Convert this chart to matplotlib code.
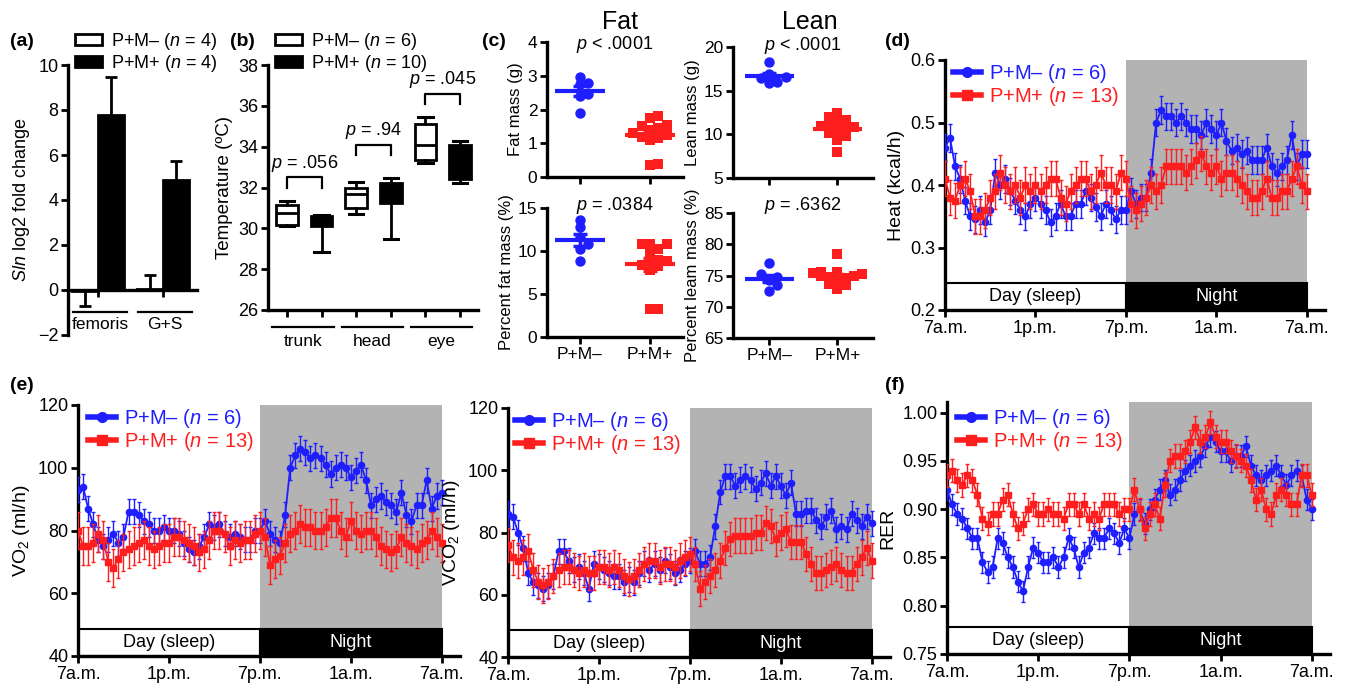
import matplotlib
matplotlib.use("Agg")
import matplotlib.pyplot as plt
import numpy as np
from matplotlib.lines import Line2D
from matplotlib.patches import Patch, Rectangle

plt.rcParams["font.family"] = ["Liberation Sans", "DejaVu Sans"]
plt.rcParams["mathtext.fontset"] = "custom"
plt.rcParams["mathtext.rm"] = "Liberation Sans"
plt.rcParams["mathtext.it"] = "Liberation Sans:italic"

W, H = 1352, 684
BLUE = "#1e1eff"
RED = "#ff1e1e"
GRAY = "#b3b3b3"

# (a) Sln expression
A_TISSUES = ["femoris", "G+S"]
A_NEG_MEAN = [-0.05, 0.05]
A_NEG_SEM = [0.65, 0.6]
A_POS_MEAN = [7.8, 4.9]
A_POS_SEM = [1.65, 0.85]

# (b) temperature, five-number summaries (whislo, q1, med, q3, whishi)
B_SITES = ["trunk", "head", "eye"]
B_NEG = [[30.1, 30.15, 30.75, 31.15, 31.35],
         [30.7, 31.0, 31.7, 32.0, 32.25],
         [33.2, 33.35, 34.1, 35.1, 35.45]]
B_POS = [[28.85, 30.1, 30.35, 30.6, 30.65],
         [29.5, 31.25, 31.7, 32.2, 32.45],
         [32.2, 32.4, 33.2, 34.1, 34.3]]
B_PVALS = [".056", ".94", ".045"]

# (c) body composition
FAT_NEG = [2.95, 2.8, 2.75, 2.45, 2.4, 1.9]
FAT_POS = [1.8, 1.75, 1.55, 1.5, 1.45, 1.4, 1.3, 1.25, 1.2, 1.15, 1.1, 0.4, 0.35]
LEAN_NEG = [18.3, 16.9, 16.6, 16.4, 16.0, 15.9]
LEAN_POS = [12.5, 12.0, 11.6, 11.3, 11.0, 10.9, 10.8, 10.6, 10.4, 10.1, 9.8, 9.4, 8.0]
PFAT_NEG = [13.6, 12.8, 11.6, 10.8, 10.2, 8.8]
PFAT_POS = [10.8, 10.8, 10.8, 10.2, 9.8, 9.0, 8.8, 8.6, 8.4, 8.2, 7.8, 3.2, 3.2]
PLEAN_NEG = [77.0, 75.2, 74.7, 74.3, 73.4, 72.5]
PLEAN_POS = [78.5, 75.6, 75.4, 75.2, 75.0, 74.9, 74.8, 74.6, 74.4, 73.6, 73.4, 72.8, 75.5]

# (d)-(f) indirect calorimetry, 20-min bins from 7 a.m. to 7 a.m.
HOURS = np.linspace(0, 24, 73)
TIME_LABELS = ["7a.m.", "1p.m.", "7p.m.", "1a.m.", "7a.m."]

HEAT_NEG = [0.46, 0.475, 0.43, 0.41, 0.375, 0.35, 0.345, 0.36, 0.34, 0.36,
            0.42, 0.40, 0.41, 0.39, 0.375, 0.36, 0.35, 0.37, 0.38, 0.37,
            0.36, 0.34, 0.35, 0.37, 0.35, 0.35, 0.37, 0.37, 0.39, 0.38,
            0.365, 0.35, 0.37, 0.36, 0.345, 0.36, 0.36, 0.39, 0.37, 0.38,
            0.38, 0.42, 0.50, 0.52, 0.51, 0.51, 0.50, 0.51, 0.50, 0.49,
            0.49, 0.48, 0.50, 0.49, 0.48, 0.50, 0.47, 0.455, 0.46, 0.45,
            0.455, 0.44, 0.44, 0.44, 0.46, 0.43, 0.42, 0.43, 0.44, 0.48,
            0.43, 0.45, 0.45]
HEAT_POS = [0.41, 0.38, 0.375, 0.40, 0.41, 0.39, 0.35, 0.35, 0.36, 0.38,
            0.39, 0.42, 0.40, 0.39, 0.40, 0.38, 0.40, 0.39, 0.40, 0.39,
            0.40, 0.41, 0.41, 0.38, 0.37, 0.39, 0.40, 0.41, 0.41, 0.39,
            0.40, 0.42, 0.40, 0.40, 0.39, 0.42, 0.41, 0.37, 0.36, 0.37,
            0.38, 0.40, 0.39, 0.40, 0.43, 0.43, 0.43, 0.43, 0.42, 0.43,
            0.44, 0.45, 0.43, 0.42, 0.43, 0.41, 0.42, 0.42, 0.41, 0.40,
            0.39, 0.38, 0.38, 0.39, 0.41, 0.38, 0.38, 0.39, 0.39, 0.41,
            0.43, 0.40, 0.39]
HEAT_SEM = (0.022, 0.028)

VO2_NEG = [93, 94, 87, 82, 77, 75, 77, 79, 76, 78,
           86, 86, 85, 83, 82, 80, 80, 81, 80, 80,
           79, 76, 74, 73, 75, 78, 82, 81, 82, 79,
           78, 79, 78, 77, 77, 80, 80, 83, 79, 77,
           76, 85, 100, 104, 106, 105, 103, 104, 103, 101,
           98, 100, 101, 100, 97, 99, 101, 96, 88, 90,
           91, 89, 88, 86, 92, 85, 83, 88, 88, 96,
           87, 91, 92]
VO2_POS = [80, 75, 75, 76, 79, 77, 70, 68, 71, 73,
           74, 75, 76, 77, 75, 74, 75, 76, 76, 78,
           78, 77, 76, 75, 73, 74, 77, 80, 80, 79,
           75, 77, 76, 77, 77, 79, 80, 78, 69, 71,
           72, 76, 79, 80, 82, 81, 81, 80, 80, 81,
           84, 84, 80, 78, 83, 80, 79, 80, 80, 78,
           75, 74, 73, 74, 78, 76, 75, 74, 76, 77,
           80, 78, 76]
VO2_SEM = (4.0, 6.0)

VCO2_NEG = [86, 85, 80, 75, 67, 64, 63, 62, 63, 66,
            74, 74, 71, 68, 69, 67, 62, 70, 69, 68,
            67, 66, 66, 64, 65, 64, 67, 70, 68, 70,
            68, 71, 69, 67, 68, 70, 71, 74, 70, 70,
            72, 82, 93, 98, 98, 95, 97, 98, 97, 94,
            96, 99, 95, 98, 95, 92, 96, 86, 86, 87,
            87, 84, 82, 85, 87, 81, 82, 81, 86, 84,
            82, 85, 83]
VCO2_POS = [76, 72, 71, 72, 74, 68, 64, 63, 64, 66,
            68, 69, 69, 68, 67, 68, 67, 67, 69, 69,
            68, 69, 68, 66, 65, 66, 68, 70, 71, 71,
            69, 70, 70, 69, 71, 72, 73, 70, 62, 64,
            66, 68, 71, 75, 78, 79, 79, 79, 79, 80,
            80, 83, 82, 78, 80, 81, 77, 77, 77, 73,
            70, 67, 67, 68, 69, 70, 68, 67, 67, 70,
            72, 75, 71]
VCO2_SEM = (4.0, 5.5)

RER_NEG = [0.92, 0.905, 0.895, 0.89, 0.88, 0.87, 0.87, 0.845, 0.835, 0.84,
           0.87, 0.865, 0.85, 0.84, 0.825, 0.815, 0.84, 0.86, 0.855, 0.845,
           0.845, 0.85, 0.84, 0.85, 0.87, 0.86, 0.84, 0.855, 0.86, 0.875,
           0.87, 0.87, 0.88, 0.875, 0.865, 0.88, 0.87, 0.895, 0.90, 0.885,
           0.90, 0.91, 0.92, 0.93, 0.915, 0.92, 0.93, 0.94, 0.945, 0.95,
           0.955, 0.965, 0.975, 0.97, 0.96, 0.96, 0.95, 0.955, 0.955, 0.965,
           0.945, 0.935, 0.93, 0.935, 0.94, 0.945, 0.935, 0.925, 0.935, 0.94,
           0.935, 0.91, 0.90]
RER_POS = [0.935, 0.94, 0.93, 0.925, 0.935, 0.93, 0.915, 0.89, 0.885, 0.895,
           0.895, 0.91, 0.915, 0.895, 0.88, 0.885, 0.90, 0.905, 0.895, 0.895,
           0.90, 0.895, 0.895, 0.89, 0.905, 0.905, 0.895, 0.905, 0.89, 0.895,
           0.89, 0.905, 0.905, 0.905, 0.895, 0.90, 0.90, 0.92, 0.90, 0.88,
           0.895, 0.905, 0.89, 0.925, 0.95, 0.955, 0.955, 0.96, 0.97, 0.985,
           0.97, 0.975, 0.99, 0.975, 0.97, 0.97, 0.96, 0.955, 0.95, 0.945,
           0.93, 0.91, 0.92, 0.90, 0.895, 0.915, 0.92, 0.915, 0.905, 0.905,
           0.935, 0.935, 0.915]
RER_SEM = (0.011, 0.012)


def px_axes(fig, left, top, right, bottom):
    return fig.add_axes([left / W, 1 - bottom / H, (right - left) / W, (bottom - top) / H])


def style(ax, labelsize=12.5):
    for side in ("top", "right"):
        ax.spines[side].set_visible(False)
    for side in ("left", "bottom"):
        ax.spines[side].set_linewidth(2.4)
    ax.tick_params(width=2, length=5, labelsize=labelsize, pad=2)


def group_legend(fig, left, top, n_neg, n_pos):
    handles = [Patch(facecolor="white", edgecolor="black", lw=2),
               Patch(facecolor="black", edgecolor="black", lw=2)]
    labels = [f"P+M\u2013 ($\\mathit{{n}}$ = {n_neg})", f"P+M+ ($\\mathit{{n}}$ = {n_pos})"]
    fig.legend(handles, labels, loc="upper left", bbox_to_anchor=(left / W, 1 - top / H),
               frameon=False, fontsize=13, handlelength=1.5, handleheight=0.6,
               handletextpad=0.5, labelspacing=0.05, borderpad=0, borderaxespad=0)


def swarm_offsets(values, min_gap, step=0.12, slots=7):
    # simple beeswarm: 0, +s, -s, +2s, ... limited to a few slots per side
    cands = [((k + 1) // 2) * step * (1 if k % 2 else -1) for k in range(slots)]
    offsets = np.zeros(len(values))
    placed = []
    for n, idx in enumerate(np.argsort(values)):
        v = values[idx]
        choice = cands[n % slots]
        for cand in cands:
            if all(abs(cand - o) > step * 0.9 or abs(v - pv) > min_gap for o, pv in placed):
                choice = cand
                break
        offsets[idx] = choice
        placed.append((choice, v))
    return offsets


def scatter_panel(ax, neg, pos, ylim, yticks, ylabel, ptext, ptext_y, xlim, show_labels):
    span = ylim[1] - ylim[0]
    for x, vals, color, marker in ((0, neg, BLUE, "o"), (1, pos, RED, "s")):
        vals = np.asarray(vals)
        offs = swarm_offsets(vals, span * 0.05)
        ax.plot(x + offs, vals, marker, color=color, ms=7.5, mew=0, zorder=3, clip_on=False)
        mean = vals.mean()
        sem = vals.std(ddof=1) / np.sqrt(len(vals))
        ax.hlines(mean, x - 0.36, x + 0.36, color=color, lw=3, zorder=4)
        ax.hlines([mean - sem, mean + sem], x - 0.1, x + 0.1, color=color, lw=2.5, zorder=4)
        ax.vlines(x, mean - sem, mean + sem, color=color, lw=2.5, zorder=4)
    ax.set_xlim(*xlim)
    ax.set_ylim(*ylim)
    ax.set_yticks(yticks)
    ax.set_xticks([0, 1])
    ax.set_xticklabels(["P+M\u2013", "P+M+"] if show_labels else ["", ""], fontsize=13.5)
    ax.set_ylabel(ylabel, fontsize=12, labelpad=3)
    ax.text(0.5, ptext_y, ptext, transform=ax.transAxes, ha="center", va="center", fontsize=13)
    style(ax, 12.5)


def timecourse(fig, ax, neg, pos, sems, ylim, yticks, ylabel, legend_at, fmt):
    frac = 0.108
    ax.set_xlim(0, 25.2)
    ax.set_ylim(*ylim)
    ax.axvspan(12, 24, ymin=frac, ymax=1, color=GRAY, lw=0, zorder=0)
    tr = ax.get_xaxis_transform()
    ax.add_patch(Rectangle((0, 0), 12, frac, transform=tr, facecolor="white",
                           edgecolor="black", lw=1.5, zorder=1))
    ax.add_patch(Rectangle((12, 0), 12, frac, transform=tr, facecolor="black",
                           edgecolor="black", lw=1.5, zorder=1))
    ax.text(6, frac / 2, "Day (sleep)", transform=tr, ha="center", va="center", fontsize=13)
    ax.text(18, frac / 2, "Night", transform=tr, ha="center", va="center", fontsize=13,
            color="white")
    ax.errorbar(HOURS, neg, yerr=sems[0], fmt="-o", color=BLUE, ms=4.5, lw=1.3,
                elinewidth=1, capsize=1.5, zorder=3)
    ax.errorbar(HOURS, pos, yerr=sems[1], fmt="-s", color=RED, ms=4, lw=1.3,
                elinewidth=1, capsize=1.5, zorder=4)
    ax.set_xticks([0, 6, 12, 18, 24])
    ax.set_xticklabels(TIME_LABELS)
    ax.set_yticks(yticks)
    ax.set_yticklabels([fmt.format(v) for v in yticks])
    ax.set_ylabel(ylabel, fontsize=14, labelpad=4)
    style(ax, 13)
    handles = [Line2D([], [], color=BLUE, lw=4, marker="o", ms=7),
               Line2D([], [], color=RED, lw=4, marker="s", ms=6.5)]
    labels = ["P+M\u2013 ($\\mathit{n}$ = 6)", "P+M+ ($\\mathit{n}$ = 13)"]
    ax.legend(handles, labels, loc="upper left",
              bbox_to_anchor=(legend_at[0] / W, 1 - legend_at[1] / H),
              bbox_transform=fig.transFigure, frameon=False, fontsize=14.5,
              handlelength=1.4, handletextpad=0.4, labelspacing=0.0, borderpad=0,
              borderaxespad=0, labelcolor="linecolor")


fig = plt.figure(figsize=(W / 100, H / 100), dpi=100)

# (a)
ax = px_axes(fig, 68, 65, 197, 335)
x = np.arange(len(A_TISSUES))
ax.bar(x - 0.2, A_NEG_MEAN, 0.4, color="white", edgecolor="black", lw=2, zorder=3)
ax.bar(x + 0.2, A_POS_MEAN, 0.4, color="black", edgecolor="black", lw=2, zorder=3)
for xs, means, sems in ((x - 0.2, A_NEG_MEAN, A_NEG_SEM), (x + 0.2, A_POS_MEAN, A_POS_SEM)):
    for xi, m, e in zip(xs, means, sems):
        end = m + e if m >= 0 else m - e
        ax.vlines(xi, m, end, color="black", lw=2, zorder=2)
        ax.hlines(end, xi - 0.09, xi + 0.09, color="black", lw=2, zorder=2)
ax.spines["bottom"].set_position(("data", 0))
ax.set_xlim(-0.46, 1.52)
ax.set_ylim(-2, 10)
ax.set_yticks(range(-2, 11, 2))
ax.set_xticks(x)
ax.set_xticklabels(["", ""])
ax.set_ylabel("$\\mathit{Sln}$ log2 fold change", fontsize=13, labelpad=4)
style(ax, 13)
for i, name in enumerate(A_TISSUES):
    ax.plot([i - 0.38, i + 0.44], [-1.0, -1.0], color="black", lw=1.6, clip_on=False)
    ax.text(i + 0.03, -1.55, name, ha="center", va="center", fontsize=12.5)
group_legend(fig, 75, 31, 4, 4)

# (b)
ax = px_axes(fig, 268, 65, 478, 310)
stats, faces, positions = [], [], []
for i in range(len(B_SITES)):
    for j, (summary, face) in enumerate(((B_NEG[i], "white"), (B_POS[i], "black"))):
        lo, q1, med, q3, hi = summary
        stats.append({"whislo": lo, "q1": q1, "med": med, "q3": q3, "whishi": hi})
        faces.append(face)
        positions.append(2 * i + j)
parts = ax.bxp(stats, positions=positions, widths=0.62, patch_artist=True, showfliers=False,
               capwidths=0.42,
               boxprops=dict(edgecolor="black", lw=2),
               whiskerprops=dict(color="black", lw=2),
               capprops=dict(color="black", lw=2.2),
               medianprops=dict(color="black", lw=2))
for patch, face in zip(parts["boxes"], faces):
    patch.set_facecolor(face)
ax.set_xlim(-0.55, 5.52)
ax.set_ylim(26, 38)
ax.set_yticks(range(26, 39, 2))
ax.set_xticks(positions)
ax.set_xticklabels([""] * len(positions))
ax.set_ylabel("Temperature (\u00baC)", fontsize=13.5, labelpad=4)
style(ax, 13)
for i, (site, p, y_br) in enumerate(zip(B_SITES, B_PVALS, [32.5, 34.1, 36.6])):
    ax.plot([2 * i, 2 * i, 2 * i + 1, 2 * i + 1], [y_br - 0.5, y_br, y_br, y_br - 0.5],
            color="black", lw=1.6)
    ax.text(2 * i + 0.5, y_br + 0.7, f"$\\mathit{{p}}$ = {p}", ha="center", va="center",
            fontsize=13)
    ax.plot([2 * i - 0.42, 2 * i + 1.35], [25.15, 25.15], color="black", lw=1.6, clip_on=False)
    ax.text(2 * i + 0.47, 24.45, site, ha="center", va="center", fontsize=12.5)
group_legend(fig, 275, 31, 6, 10)

# (c)
fig.text(620 / W, 1 - 22 / H, "Fat", ha="center", va="center", fontsize=18)
fig.text(810 / W, 1 - 22 / H, "Lean", ha="center", va="center", fontsize=18)
scatter_panel(px_axes(fig, 547, 42, 683, 177), FAT_NEG, FAT_POS, (0, 4), range(0, 5),
              "Fat mass (g)", "$\\mathit{p}$ < .0001", 0.98, (-0.47, 1.47), False)
scatter_panel(px_axes(fig, 733, 47, 873, 178), LEAN_NEG, LEAN_POS, (5, 20), range(5, 21, 5),
              "Lean mass (g)", "$\\mathit{p}$ < .0001", 1.015, (-0.53, 1.52), False)
scatter_panel(px_axes(fig, 547, 208, 683, 337), PFAT_NEG, PFAT_POS, (0, 15), range(0, 16, 5),
              "Percent fat mass (%)", "$\\mathit{p}$ = .0384", 1.02, (-0.47, 1.47), True)
scatter_panel(px_axes(fig, 733, 213, 873, 338), PLEAN_NEG, PLEAN_POS, (65, 85), range(65, 86, 5),
              "Percent leam mass (%)", "$\\mathit{p}$ = .6362", 1.06, (-0.53, 1.52), True)

# (d)-(f)
timecourse(fig, px_axes(fig, 945, 60, 1325, 310), HEAT_NEG, HEAT_POS, HEAT_SEM, (0.2, 0.6),
           [0.2, 0.3, 0.4, 0.5, 0.6], "Heat (kcal/h)", (953, 62), "{:.1f}")
timecourse(fig, px_axes(fig, 78, 405, 460, 656), VO2_NEG, VO2_POS, VO2_SEM, (40, 120),
           range(40, 121, 20), "VO$_2$ (ml/h)", (88, 407), "{:d}")
timecourse(fig, px_axes(fig, 508, 408, 890, 657), VCO2_NEG, VCO2_POS, VCO2_SEM, (40, 120),
           range(40, 121, 20), "VCO$_2$ (ml/h)", (515, 410), "{:d}")
timecourse(fig, px_axes(fig, 947, 402, 1330, 654), RER_NEG, RER_POS, RER_SEM, (0.75, 1.011),
           [0.75, 0.80, 0.85, 0.90, 0.95, 1.00], "RER", (957, 407), "{:.2f}")

for label, lx, ly in (("(a)", 10, 42), ("(b)", 230, 42), ("(c)", 482, 42), ("(d)", 885, 42),
                      ("(e)", 10, 385), ("(f)", 885, 385)):
    fig.text(lx / W, 1 - ly / H, label, ha="left", va="center", fontsize=14, fontweight="bold")

fig.savefig("out.png", dpi=100)
